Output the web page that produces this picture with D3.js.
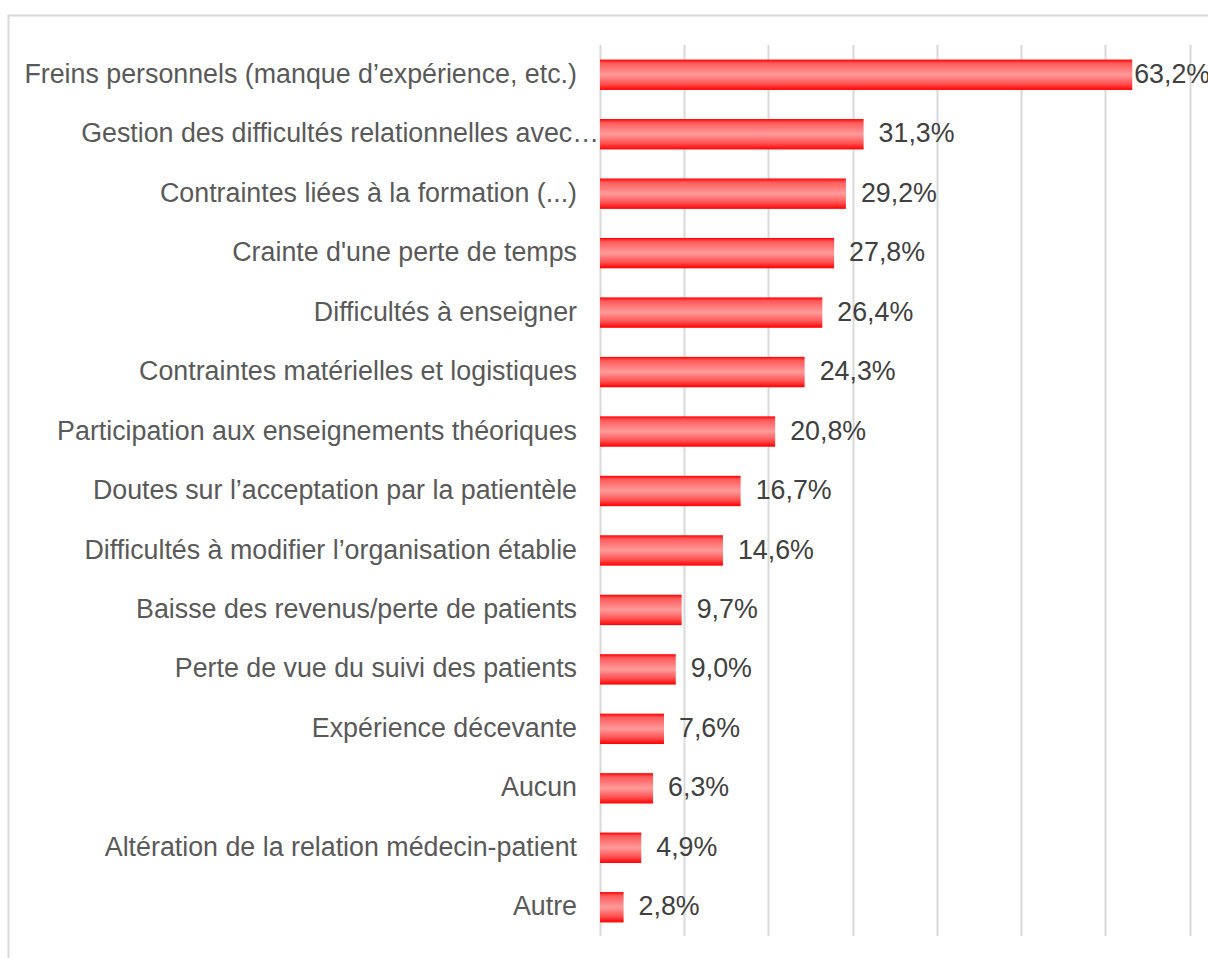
<!DOCTYPE html>
<html>
<head>
<meta charset="utf-8">
<script src="https://cdn.jsdelivr.net/npm/d3@7"></script>
<style>
  body { margin: 0; background: #fff; }
  svg { display: block; font-family: "Liberation Sans", Arial, sans-serif; }
</style>
</head>
<body>
<svg id="chart" width="1208" height="958"></svg>
<script>
const categories = [
  "Freins personnels (manque d\u2019expérience, etc.)",
  "Gestion des difficultés relationnelles avec\u2026",
  "Contraintes liées à la formation (...)",
  "Crainte d'une perte de temps",
  "Difficultés à enseigner",
  "Contraintes matérielles et logistiques",
  "Participation aux enseignements théoriques",
  "Doutes sur l\u2019acceptation par la patientèle",
  "Difficultés à modifier l\u2019organisation établie",
  "Baisse des revenus/perte de patients",
  "Perte de vue du suivi des patients",
  "Expérience décevante",
  "Aucun",
  "Altération de la relation médecin-patient",
  "Autre"
];
const values = [63.2, 31.3, 29.2, 27.8, 26.4, 24.3, 20.8, 16.7, 14.6, 9.7, 9.0, 7.6, 6.3, 4.9, 2.8];
const gridTicks = [0, 10, 20, 30, 40, 50, 60, 70];

const svg = d3.select("#chart");
const width = 1208, height = 958;

// outer frame (partly cut off by the picture edge)
svg.append("path")
  .attr("d", `M8.5,${height} V15.5 H${width}`)
  .attr("fill", "none")
  .attr("stroke", "#d9d9d9")
  .attr("stroke-width", 2);

const xScale = d3.scaleLinear().domain([0, 70]).range([600, 1189.5]);
const yScale = d3.scaleBand().domain(categories).range([45, 937])
  .paddingInner(0.489).paddingOuter(0.245);

// gradient for bars
const defs = svg.append("defs");
const grad = defs.append("linearGradient")
  .attr("id", "barGrad")
  .attr("x1", 0).attr("y1", 0).attr("x2", 0).attr("y2", 1);
grad.append("stop").attr("offset", "0%").attr("stop-color", "#ff0000");
grad.append("stop").attr("offset", "12%").attr("stop-color", "#ff5a5a");
grad.append("stop").attr("offset", "50%").attr("stop-color", "#ff9b9b");
grad.append("stop").attr("offset", "80%").attr("stop-color", "#ff5050");
grad.append("stop").attr("offset", "100%").attr("stop-color", "#ff0000");

// gridlines
svg.append("g")
  .selectAll("line")
  .data(gridTicks)
  .enter()
  .append("line")
  .attr("x1", (d) => Math.round(xScale(d)) + 0.5)
  .attr("x2", (d) => Math.round(xScale(d)) + 0.5)
  .attr("y1", 45)
  .attr("y2", 936)
  .attr("stroke", "#d9d9d9")
  .attr("stroke-width", 2);

// bars
svg.append("g")
  .selectAll("rect")
  .data(values)
  .enter()
  .append("rect")
  .attr("x", xScale(0))
  .attr("y", (d, i) => yScale(categories[i]))
  .attr("width", (d) => xScale(d) - xScale(0))
  .attr("height", yScale.bandwidth())
  .attr("fill", "url(#barGrad)");

// category labels
svg.append("g")
  .selectAll("text")
  .data(categories)
  .enter()
  .append("text")
  .attr("x", (d) => (d.endsWith("\u2026") ? 599 : 577))
  .attr("y", (d) => yScale(d) + yScale.bandwidth() / 2)
  .attr("dy", "0.3em")
  .attr("text-anchor", "end")
  .attr("font-size", 26.8)
  .attr("fill", "#595959")
  .text((d) => d);

// value labels
const fmt = (v) => v.toFixed(1).replace(".", ",") + "%";
svg.append("g")
  .selectAll("text")
  .data(values)
  .enter()
  .append("text")
  .attr("x", (d) => (xScale(d) + 95 > width ? xScale(d) + 2 : xScale(d) + 15))
  .attr("y", (d, i) => yScale(categories[i]) + yScale.bandwidth() / 2)
  .attr("dy", "0.3em")
  .attr("font-size", 26.8)
  .attr("fill", "#404040")
  .text(fmt);
</script>
</body>
</html>
